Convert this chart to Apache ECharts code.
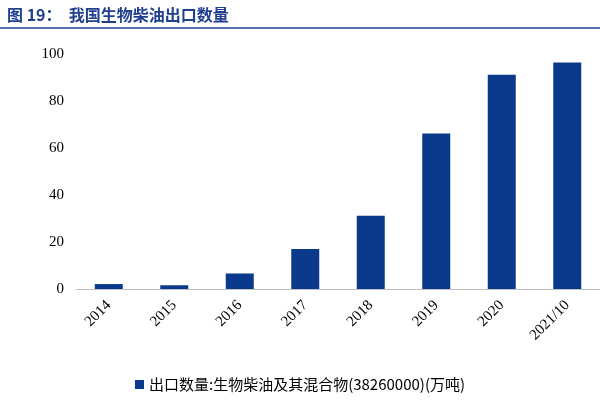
<!DOCTYPE html>
<html><head><meta charset="utf-8">
<script src="https://cdn.jsdelivr.net/npm/echarts@6/dist/echarts.min.js"></script>
<style>html,body{margin:0;padding:0;background:#fff}#c{width:600px;height:400px}</style>
</head><body><div id="c"></div>
<script>
const categories = ['2014','2015','2016','2017','2018','2019','2020','2021/10'];
const values = [2.1, 1.6, 6.6, 17.0, 31.2, 66.2, 91.2, 96.4];
const seriesName = '出口数量:生物柴油及其混合物(38260000)(万吨)';
const titleText = '图 19：  我国生物柴油出口数量';
const chart = echarts.init(document.getElementById('c'));
chart.setOption({
  animation:false,
  title:{text:titleText,left:2,top:2,textStyle:{color:'#1f3f8f',fontSize:16,fontWeight:'bold',fontFamily:'Noto Sans CJK SC'}},
  graphic:[{type:'line',shape:{x1:0,y1:28,x2:600,y2:28},style:{stroke:'#1f3f8f',lineWidth:1.5}}],
  legend:{bottom:3,left:'center',itemWidth:9,itemHeight:9,icon:'rect',textStyle:{fontFamily:'Noto Sans CJK SC',fontSize:15,color:'#000'}},
  grid:{left:76,right:-14,top:54,bottom:111},
  xAxis:{type:'category',data:categories,axisTick:{show:false},axisLine:{lineStyle:{color:'#bfbfbf'}},
    axisLabel:{rotate:45,color:'#000',fontSize:15,fontFamily:'Liberation Serif',margin:14}},
  yAxis:{type:'value',min:0,max:100,interval:20,splitLine:{show:false},axisLine:{show:false},axisTick:{show:false},
    axisLabel:{color:'#000',fontSize:15,fontFamily:'Liberation Serif',margin:12}},
  series:[{name:seriesName,type:'bar',data:values,barWidth:28,itemStyle:{color:'#0b3a8c'}}]
});
</script></body></html>
